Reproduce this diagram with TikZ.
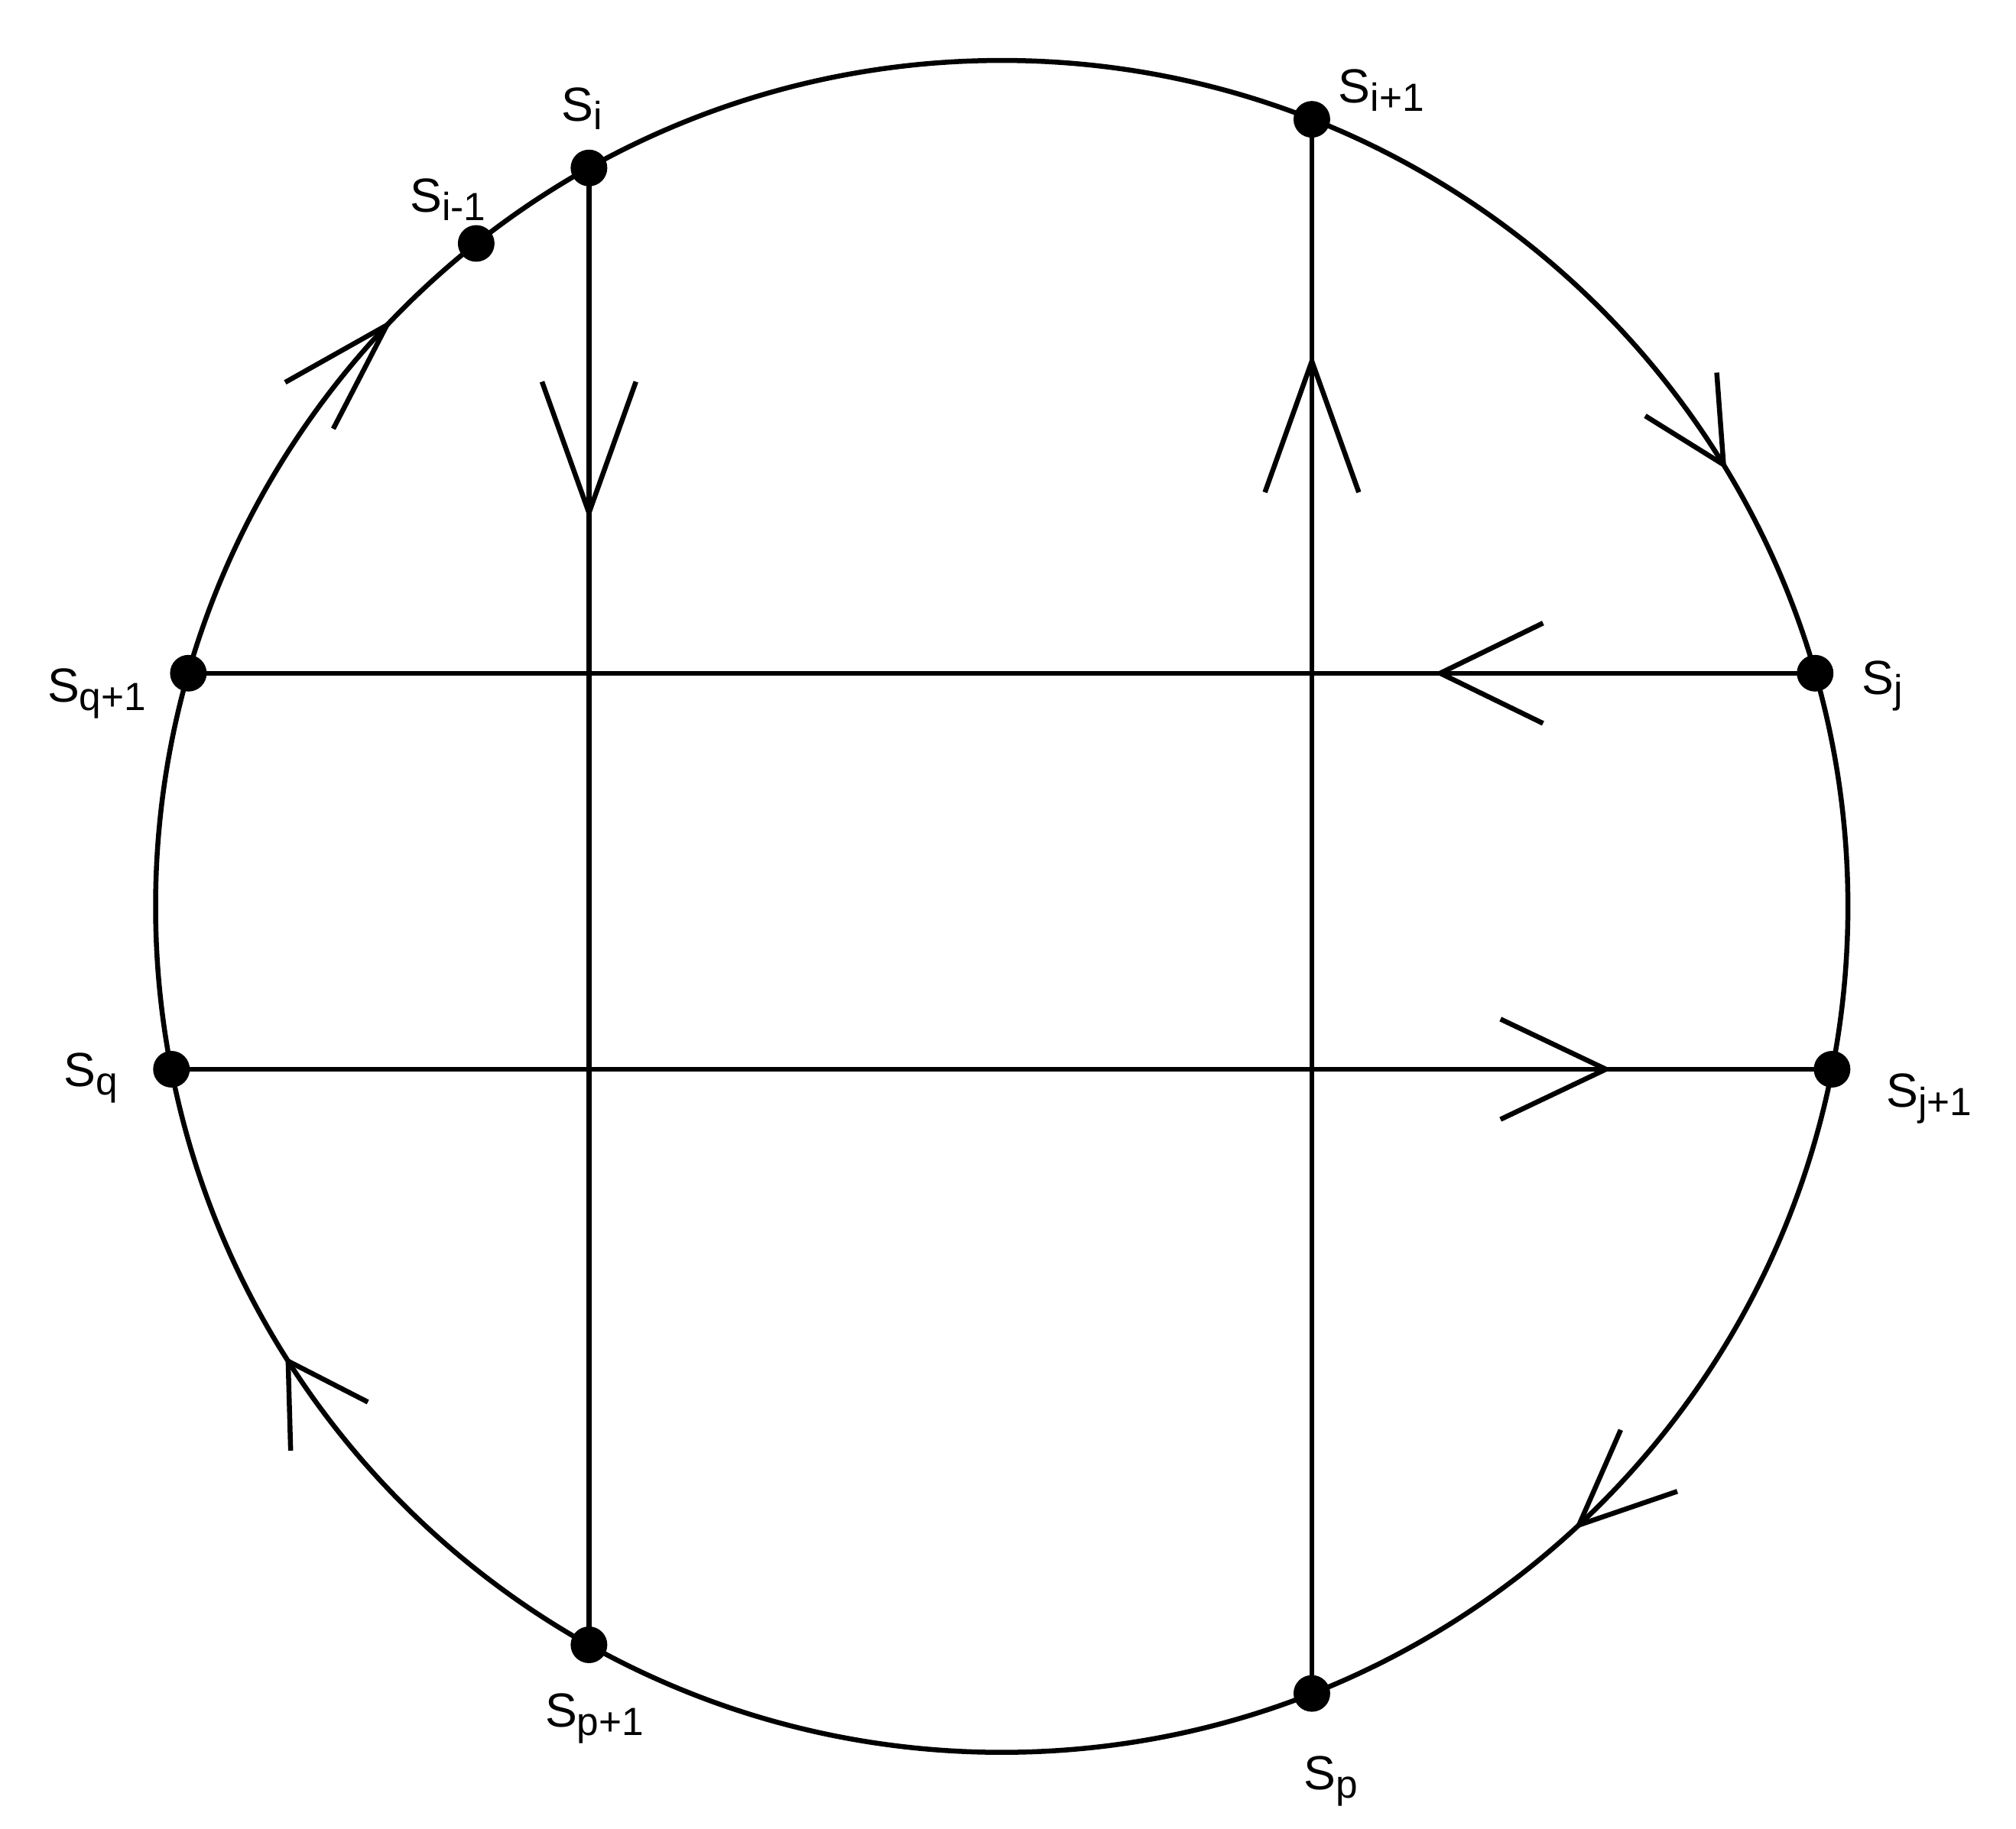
\documentclass[tikz,border=0pt]{standalone}
\usepackage{fontspec}
\setmainfont{Liberation Sans}
\usetikzlibrary{arrows.meta,decorations.markings}

\tikzset{
  dot/.style={circle, fill, inner sep=0pt, minimum size=2.85mm},
  lbl/.style={anchor=base west, inner sep=0pt, font=\fontsize{10.6}{12}\selectfont},
}
\newcommand{\Sub}[1]{S\raisebox{-1.9pt}{\fontsize{8.7}{10}\selectfont #1}}

\begin{document}
\begin{tikzpicture}[line width=1.1pt]
    \useasboundingbox (-7.79,-7.176) rectangle (7.887,7.05);

    % points on the circle
    \node[dot] (si)  at (119.2:6.58) {};
    \node[dot] (sim) at (128.4:6.58) {};
    \node[dot] (sip) at (68.5:6.58) {};
    \node[dot] (sj)  at (16:6.58) {};
    \node[dot] (sjp) at (-11.1:6.58) {};
    \node[dot] (sp)  at (291.5:6.58) {};
    \node[dot] (spp) at (240.8:6.58) {};
    \node[dot] (sq)  at (191.1:6.58) {};
    \node[dot] (sqp) at (164:6.58) {};

    % the circle, run through clockwise
    \draw[postaction={decorate}, decoration={markings,
        mark=at position 0.0864 with {\arrowreversed{Straight Barb[length=6.4mm, width=6.5mm]}},
        mark=at position 0.3778 with {\arrowreversed{Straight Barb[length=8.7mm, width=5.2mm]}},
        mark=at position 0.5894 with {\arrowreversed{Straight Barb[length=6mm, width=7.1mm]}},
        mark=at position 0.8683 with {\arrowreversed{Straight Barb[length=7.4mm, width=6.5mm]}}}]
        (0,0) circle (6.58);

    % chords
    \draw[postaction={decorate}, decoration={markings,
        mark=at position 2.74cm with {\arrow{Straight Barb[length=10.2mm, width=7.3mm]}}}]
        (si.center) -- (spp.center);
    \draw[postaction={decorate}, decoration={markings,
        mark=at position 10.42cm with {\arrow{Straight Barb[length=10.2mm, width=7.3mm]}}}]
        (sp.center) -- (sip.center);
    \draw[postaction={decorate}, decoration={markings,
        mark=at position 2.96cm with {\arrow{Straight Barb[length=8mm, width=7.8mm]}}}]
        (sj.center) -- (sqp.center);
    \draw[postaction={decorate}, decoration={markings,
        mark=at position 11.2cm with {\arrow{Straight Barb[length=8.2mm, width=7.8mm]}}}]
        (sq.center) -- (sjp.center);

    % labels
    \node[lbl] (si-l)  at (-3.44,6.11)  {\Sub{i}};
    \node[lbl] (sim-l) at (-4.62,5.40)  {\Sub{i-1}};
    \node[lbl] (sip-l) at (2.60,6.25)   {\Sub{i+1}};
    \node[lbl] (sj-l)  at (6.67,1.65)   {\Sub{j}};
    \node[lbl] (sjp-l) at (6.86,-1.56)  {\Sub{j+1}};
    \node[lbl] (sqp-l) at (-7.44,1.59)  {\Sub{q+1}};
    \node[lbl] (sq-l)  at (-7.31,-1.40) {\Sub{q}};
    \node[lbl] (spp-l) at (-3.57,-6.38) {\Sub{p+1}};
    \node[lbl] (sp-l)  at (2.33,-6.87)  {\Sub{p}};
\end{tikzpicture}
\end{document}
